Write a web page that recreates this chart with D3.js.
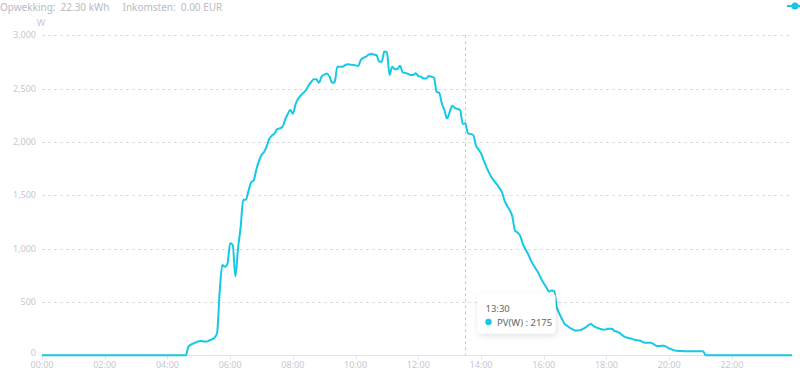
<!DOCTYPE html>
<html>
<head>
<meta charset="utf-8">
<script src="https://cdn.jsdelivr.net/npm/d3@7"></script>
<style>
  body { margin: 0; background: #fff; }
  svg { display: block; font-family: "Noto Sans", "DejaVu Sans", sans-serif; }
  .axis-text { fill: #c6c8d2; font-size: 9px; }
  .header-text { fill: #b9bbc4; font-size: 10px; }
  .grid-line { stroke: #dcdde6; stroke-dasharray: 3,3; stroke-width: 1; }
  .pv-line { fill: none; stroke: #14c8e6; stroke-width: 2; stroke-linejoin: round; }
</style>
</head>
<body>
<div id="chart"></div>
<script>
//////////////////////////////////////////////////////////////
//////////////////////////// Data ////////////////////////////
//////////////////////////////////////////////////////////////

//one reading every 5 minutes, 00:00 .. 23:55 (288 values)
const pvWatts = [
  0,0,0,0,0,0,0,0,0,0,0,0,             //00:00
  0,0,0,0,0,0,0,0,0,0,0,0,             //01:00
  0,0,0,0,0,0,0,0,0,0,0,0,             //02:00
  0,0,0,0,0,0,0,0,0,0,0,0,             //03:00
  0,0,0,0,0,0,0,0,80,100,112,122,      //04:00
  132,134,130,130,140,150,165,210,600,846,830,862,          //05:00
  1050,1034,740,1000,1200,1456,1460,1540,1620,1640,1740,1820, //06:00
  1878,1905,1960,2030,2060,2080,2120,2128,2140,2206,2260,2300, //07:00
  2265,2350,2405,2435,2460,2487,2530,2562,2587,2587,2556,2612, //08:00
  2630,2643,2615,2555,2560,2706,2706,2706,2720,2728,2725,2722, //09:00
  2718,2712,2770,2788,2800,2818,2825,2820,2815,2753,2753,2847, //10:00
  2840,2628,2706,2681,2684,2715,2653,2648,2640,2628,2628,2645, //11:00
  2618,2612,2595,2595,2618,2612,2603,2472,2462,2360,2300,2220, //12:00
  2280,2340,2320,2310,2300,2168,2175,2081,2075,2065,1971,1930, //13:00
  1894,1830,1768,1715,1670,1635,1605,1570,1530,1450,1400,1360, //14:00
  1300,1170,1150,1120,1045,995,950,895,850,810,770,718,        //15:00
  675,638,598,608,600,450,390,340,295,275,258,245,             //16:00
  233,232,236,248,262,280,293,275,262,253,244,240,             //17:00
  244,250,250,230,222,210,190,172,165,160,152,144,             //18:00
  140,137,122,118,118,117,105,90,87,89,90,78,                  //19:00
  65,55,46,42,40,40,38,37,37,37,37,37,                         //20:00
  37,37,0,0,0,0,0,0,0,0,0,0,                                   //21:00
  0,0,0,0,0,0,0,0,0,0,0,0,                                     //22:00
  0,0,0,0,0,0,0,0,0,0,0,0                                      //23:00
]

const xTickLabels = ["00:00","02:00","04:00","06:00","08:00","10:00","12:00","14:00","16:00","18:00","20:00","22:00"]
const yTicks = [0, 500, 1000, 1500, 2000, 2500, 3000]

const headerItems = [
    { label: "Opwekking:", value: "22.30 kWh" },
    { label: "Inkomsten:", value: "0.00 EUR" }
]
const unitLabel = "W"
const seriesName = "PV(W)"
const hoverTime = "13:30"

const stepMinutes = 5
const data = pvWatts.map((v, i) => ({ minute: i * stepMinutes, value: v }))

//////////////////////////////////////////////////////////////
///////////////////////// Create SVG /////////////////////////
//////////////////////////////////////////////////////////////

const width = 800
const height = 373
const plot = { left: 42, right: 792, top: 35.3, bottom: 355.3 }

const svg = d3.select("#chart").append("svg")
    .attr("width", width)
    .attr("height", height)

//////////////////////////////////////////////////////////////
//////////////////////// Create scales ///////////////////////
//////////////////////////////////////////////////////////////

const xScale = d3.scaleLinear()
    .domain([0, (pvWatts.length - 1) * stepMinutes])
    .range([plot.left, plot.right])

const yScale = d3.scaleLinear()
    .domain([0, 3000])
    .range([plot.bottom, plot.top])

const toMinutes = s => +s.slice(0,2) * 60 + +s.slice(3,5)

//////////////////////////////////////////////////////////////
///////////////////////// Header /////////////////////////////
//////////////////////////////////////////////////////////////

const header = svg.append("g").attr("class", "header-group")

let headerX = 0
headerItems.forEach(d => {
    const t = header.append("text")
        .attr("class", "header-text")
        .attr("x", headerX)
        .attr("y", 11)
    t.append("tspan").text(d.label)
    t.append("tspan").attr("dx", 5).text(d.value)
    headerX += t.node().getComputedTextLength() + 5 + 13
})

//legend icon (text is cut off at right edge)
const legend = svg.append("g").attr("transform", "translate(795,6)")
legend.append("line")
    .attr("x1", -8).attr("x2", 10)
    .attr("stroke", "#14c8e6").attr("stroke-width", 2)
legend.append("circle")
    .attr("r", 3.6)
    .attr("fill", "#14c8e6")

svg.append("text")
    .attr("class", "axis-text")
    .attr("x", 41)
    .attr("y", 25.5)
    .attr("text-anchor", "middle")
    .text(unitLabel)

//////////////////////////////////////////////////////////////
/////////////////////// Gridlines & axes /////////////////////
//////////////////////////////////////////////////////////////

const grid = svg.append("g").attr("class", "gridline-group")

grid.selectAll(".grid-line")
    .data(yTicks.filter(d => d > 0))
    .enter().append("line")
    .attr("class", "grid-line")
    .attr("x1", plot.left)
    .attr("x2", plot.right)
    .attr("y1", d => Math.round(yScale(d)) + 0.5)
    .attr("y2", d => Math.round(yScale(d)) + 0.5)

grid.selectAll(".y-label")
    .data(yTicks)
    .enter().append("text")
    .attr("class", "axis-text")
    .attr("x", 36)
    .attr("y", d => yScale(d) + (d === 0 ? 0.8 : 3))
    .attr("text-anchor", "end")
    .text(d => d3.format(",")(d))

//x axis line
svg.append("line")
    .attr("x1", plot.left)
    .attr("x2", plot.right + 2)
    .attr("y1", Math.round(plot.bottom) + 0.5)
    .attr("y2", Math.round(plot.bottom) + 0.5)
    .attr("stroke", "#e0e1ea")

svg.selectAll(".x-tick")
    .data(xTickLabels)
    .enter().append("line")
    .attr("x1", d => Math.round(xScale(toMinutes(d))) + 0.5)
    .attr("x2", d => Math.round(xScale(toMinutes(d))) + 0.5)
    .attr("y1", plot.bottom + 1)
    .attr("y2", plot.bottom + 4)
    .attr("stroke", "#e0e1ea")

svg.selectAll(".x-label")
    .data(xTickLabels)
    .enter().append("text")
    .attr("class", "axis-text")
    .attr("x", d => xScale(toMinutes(d)))
    .attr("y", 368)
    .attr("text-anchor", "middle")
    .text(d => d)

//////////////////////////////////////////////////////////////
/////////////////////// Pointer line /////////////////////////
//////////////////////////////////////////////////////////////

const hoverX = Math.round(xScale(toMinutes(hoverTime))) + 0.5

svg.append("line")
    .attr("x1", hoverX).attr("x2", hoverX)
    .attr("y1", plot.top)
    .attr("y2", plot.bottom)
    .attr("stroke", "#c9c9d3")
    .attr("stroke-dasharray", "3,3")

//////////////////////////////////////////////////////////////
///////////////////////// Draw line //////////////////////////
//////////////////////////////////////////////////////////////

const line = d3.line()
    .x(d => xScale(d.minute))
    .y(d => yScale(d.value))
    .curve(d3.curveMonotoneX)

svg.append("path")
    .attr("class", "pv-line")
    .attr("d", line(data))

//////////////////////////////////////////////////////////////
////////////////////////// Tooltip ///////////////////////////
//////////////////////////////////////////////////////////////

const defs = svg.append("defs")
const filter = defs.append("filter")
    .attr("id", "shadow")
    .attr("x", "-20%").attr("y", "-30%")
    .attr("width", "140%").attr("height", "160%")
filter.append("feDropShadow")
    .attr("dx", 1).attr("dy", 2)
    .attr("stdDeviation", 3)
    .attr("flood-color", "#000")
    .attr("flood-opacity", 0.12)

const hoverValue = data.find(d => d.minute === toMinutes(hoverTime)).value

const tip = svg.append("g").attr("transform", "translate(477.5,293.5)")
tip.append("rect")
    .attr("width", 78)
    .attr("height", 40)
    .attr("rx", 4)
    .attr("fill", "#fff")
    .style("filter", "url(#shadow)")
tip.append("text")
    .attr("x", 8).attr("y", 18)
    .attr("fill", "#666")
    .style("font-size", "9.5px")
    .text(hoverTime)
tip.append("circle")
    .attr("cx", 11).attr("cy", 28.5)
    .attr("r", 3.2)
    .attr("fill", "#14c8e6")
tip.append("text")
    .attr("x", 19.5).attr("y", 32)
    .attr("fill", "#666")
    .style("font-size", "9.5px")
    .text(seriesName + " : " + hoverValue)
</script>
</body>
</html>
